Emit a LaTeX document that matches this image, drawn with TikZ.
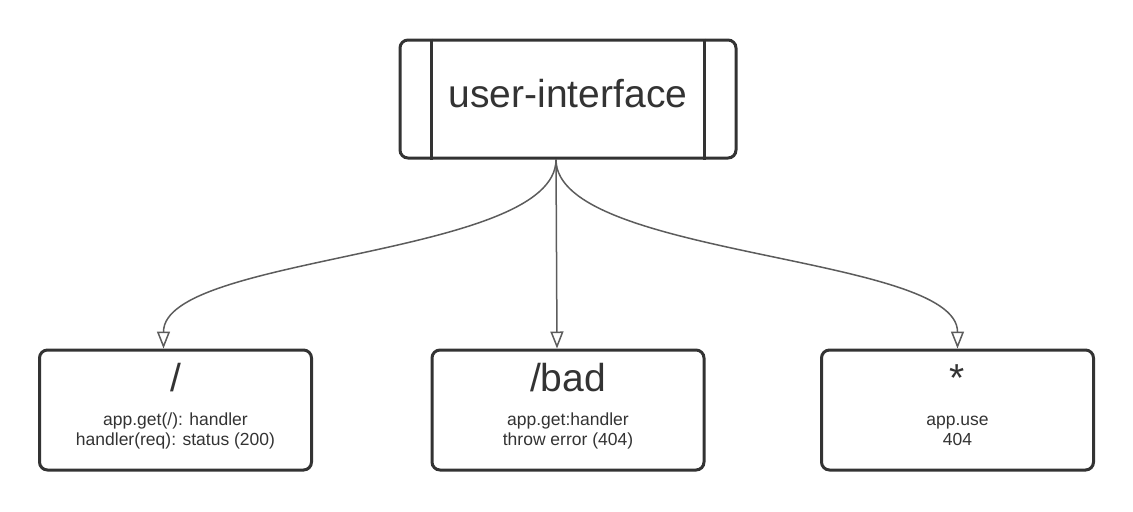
\documentclass[tikz,border=0pt]{standalone}
\usepackage{fontspec}
\setmainfont{Liberation Sans}
\usetikzlibrary{arrows.meta,positioning}
\definecolor{boxline}{HTML}{333333}
\definecolor{linkline}{HTML}{5C5C5C}
\definecolor{labeltext}{HTML}{333333}

\begin{document}
\begin{tikzpicture}[x=0.5pt,y=-0.5pt,
    route/.style={draw=boxline,line width=1.5pt,rounded corners=4pt,
      minimum width=136pt,minimum height=60pt,inner sep=0pt},
    bigtext/.style={text=labeltext,font=\fontsize{19.5}{23}\selectfont,inner sep=0pt},
    smalltext/.style={text=labeltext,font=\fontsize{8.75}{10}\selectfont,
      align=center,inner sep=0pt,anchor=base},
    link/.style={draw=linkline,line width=0.75pt,
      -{Triangle[open,length=8.5pt,width=6.5pt]}}]
  \useasboundingbox (0,0) rectangle (1133,511);
  %%% the interface
  \node[route,bigtext,draw=boxline,minimum width=168pt,minimum height=59pt,
    text height=10pt,text depth=2pt] (ui) at (568,99) {user-interface};
  % side bars
  \draw[boxline,line width=1.5pt] ([xshift=16.5pt]ui.north west) -- ([xshift=16.5pt]ui.south west);
  \draw[boxline,line width=1.5pt] ([xshift=-16.5pt]ui.north east) -- ([xshift=-16.5pt]ui.south east);
  %%% the routes
  \foreach \name/\x/\title/\info in {root/175.5/{/}/{app.get(/): handler\\handler(req): status (200)},
    bad/568/{/bad}/{app.get:handler\\throw error (404)},
    other/957.5/{*}/{app.use\\404}}
  {
    \node[route] (\name) at (\x,410) {};
    \node[bigtext,anchor=base] (\name title) at ([yshift=-21.5pt]\name.north) {\title};
    % base is the last line here
    \node[smalltext] (\name info) at ([yshift=-48.5pt]\name.north) {\info};
  }
  %%% the links
  \draw[link] ([xshift=-6pt]ui.south) .. controls +(0,98) and +(0,-94) .. ([xshift=-6pt]root.north);
  \draw[link] ([xshift=-6pt]ui.south) -- ([xshift=-5.5pt]bad.north);
  \draw[link] ([xshift=-6pt]ui.south) .. controls +(0,98) and +(0,-94) .. (other.north);
\end{tikzpicture}
\end{document}
